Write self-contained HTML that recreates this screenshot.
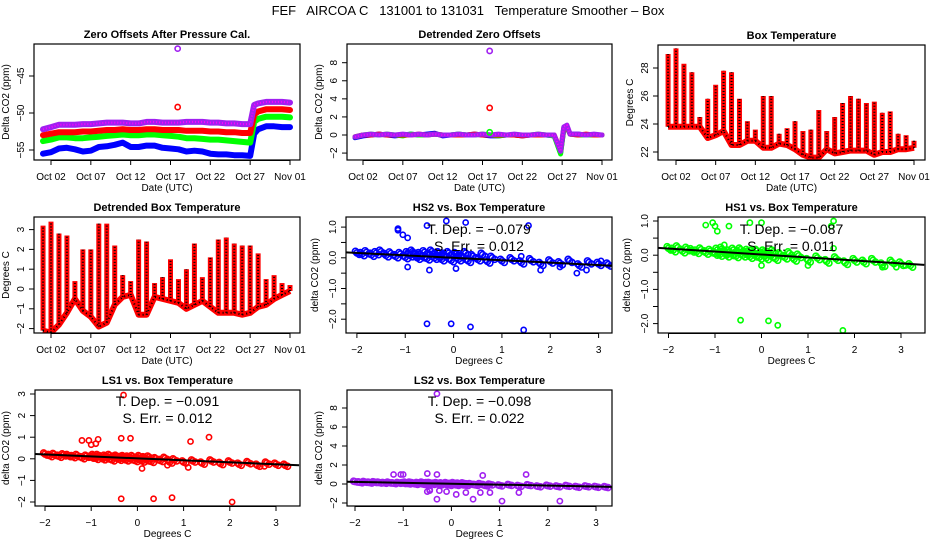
<!DOCTYPE html>
<html><head><meta charset="utf-8">
<style>
html,body{margin:0;padding:0;background:#fff;}
svg{display:block;font-family:"Liberation Sans",Arial,sans-serif;}
</style></head>
<body>
<svg id="c" width="936" height="540" viewBox="0 0 936 540" xmlns="http://www.w3.org/2000/svg">
<text x="468" y="15" text-anchor="middle" font-size="13" xml:space="preserve">FEF   AIRCOA C   131001 to 131031   Temperature Smoother – Box</text>
</svg>
<script>
// ---------- data ----------
const dateTicks = [2,7,12,17,22,27,32];
const dateTickLabels = ["Oct 02","Oct 07","Oct 12","Oct 17","Oct 22","Oct 27","Nov 01"];
const offDays = [1,2,3,4,5,6,7,8,9,10,11,12,13,14,15,16,17,18,19,20,21,22,23,24,25,26,27,27.5,28,29,30,31,32];
const offBlue   = [-55.5,-55.3,-54.8,-54.7,-54.9,-55.2,-55.1,-54.6,-54.5,-54.3,-54.0,-54.6,-54.6,-54.4,-54.4,-54.7,-54.8,-54.9,-55.2,-55.1,-55.2,-55.5,-55.6,-55.6,-55.7,-55.7,-55.8,-52.8,-52.2,-51.8,-51.8,-51.9,-51.9];
const offGreen  = [-53.8,-53.6,-53.3,-53.3,-53.4,-53.4,-53.3,-53.2,-53.1,-53.0,-52.9,-53.0,-53.0,-52.9,-52.9,-53.0,-53.1,-53.2,-53.4,-53.4,-53.5,-53.6,-53.6,-53.7,-53.8,-53.9,-54.0,-51.2,-50.8,-50.5,-50.5,-50.5,-50.6];
const offRed    = [-53.0,-52.8,-52.6,-52.6,-52.6,-52.5,-52.5,-52.4,-52.3,-52.3,-52.2,-52.3,-52.3,-52.2,-52.2,-52.3,-52.3,-52.3,-52.4,-52.4,-52.4,-52.5,-52.5,-52.6,-52.6,-52.7,-52.7,-50.2,-49.8,-49.5,-49.5,-49.5,-49.6];
const offPurple = [-52.2,-51.9,-51.6,-51.6,-51.6,-51.5,-51.5,-51.4,-51.3,-51.3,-51.3,-51.4,-51.4,-51.2,-51.2,-51.3,-51.3,-51.3,-51.2,-51.2,-51.2,-51.3,-51.3,-51.4,-51.4,-51.5,-51.5,-48.9,-48.7,-48.5,-48.5,-48.5,-48.6];
const offOutlierDays = [17.9,17.9];
const offOutlierVals = [-41.3,-49.2];

const detDays = [1,2,3,4,5,6,7,8,9,10,11,12,13,14,15,16,17,18,19,20,21,22,23,24,25,26,26.8,27.2,27.6,28,29,30,31,32];
const detBlue   = [-0.3,-0.1,0.0,0.1,0.0,-0.1,0.0,0.1,0.0,0.1,0.2,-0.1,0.0,0.1,0.0,0.1,0.0,-0.1,-0.1,0.0,0.0,-0.1,0.0,0.0,0.0,-0.1,-2.0,0.6,0.9,0.1,0.1,0.0,0.0,0.0];
const detGreen  = [-0.2,0.0,0.1,0.0,0.1,0.0,-0.1,0.1,0.0,0.0,0.1,0.0,0.0,0.1,0.0,0.0,0.1,0.0,-0.1,0.0,0.0,0.0,0.0,0.1,0.0,-0.1,-2.1,0.7,0.8,0.1,0.0,0.0,0.0,0.0];
const detRed    = [-0.2,0.0,0.0,0.1,0.0,0.0,0.0,0.0,0.1,0.0,0.1,0.0,0.0,0.0,0.0,0.1,0.0,0.0,0.0,0.0,0.0,-0.1,0.0,0.0,0.0,0.0,-1.7,0.8,1.0,0.1,0.0,0.1,0.0,0.0];
const detPurple = [-0.2,0.0,0.1,0.0,0.1,0.0,0.1,0.0,0.1,0.0,0.1,0.0,0.0,0.1,0.0,0.0,0.1,0.0,0.1,0.0,0.1,0.0,0.0,0.1,0.0,0.0,-1.8,0.9,1.1,0.1,0.1,0.0,0.1,0.0];
const detOutlierDays = [17.9,17.9,17.9];
const detOutlierVals = [9.3,3.0,0.3];

const boxDays = [1,2,3,4,5,6,7,8,9,10,11,12,13,14,15,16,17,18,19,20,21,22,23,24,25,26,27,28,29,30,31,32];
const boxMin = [23.8,23.8,23.8,23.8,23.8,23.0,23.2,23.5,22.5,22.5,22.8,22.8,22.3,22.3,22.6,22.5,22.2,21.8,21.6,21.6,22.2,21.9,22.0,22.1,22.1,22.1,21.8,22.0,22.0,22.2,22.2,22.3];
const boxMax = [29.0,29.4,28.3,27.7,24.5,25.8,26.8,27.8,27.7,25.8,24.2,23.6,26.0,26.0,23.3,23.7,24.2,23.5,23.6,25.0,23.5,24.5,25.5,26.0,25.8,25.5,25.6,24.8,24.9,23.3,23.2,22.8];
const dbMin = [-2.1,-2.2,-1.8,-1.2,-0.5,-1.1,-1.4,-1.9,-1.7,-0.8,-0.4,-0.3,-1.3,-1.3,-0.4,-0.5,-0.6,-0.7,-1.0,-0.8,-0.6,-0.9,-1.2,-1.2,-1.2,-1.3,-1.2,-0.9,-0.8,-0.5,-0.3,-0.1];
const dbMax = [3.2,3.4,2.8,2.7,0.4,2.0,2.0,3.3,3.3,2.2,0.7,0.4,2.5,2.4,0.3,0.6,1.5,0.5,1.0,2.3,0.6,1.6,2.5,2.6,2.3,2.2,2.2,1.8,0.5,0.7,0.3,0.2];

const tempC = [-2.0,-1.9,-1.8,-1.7,-1.6,-1.5,-1.4,-1.3,-1.2,-1.1,-1.0,-0.95,-0.9,-0.85,-0.8,-0.75,-0.7,-0.65,-0.6,-0.55,-0.5,-0.45,-0.4,-0.35,-0.3,-0.25,-0.2,-0.15,-0.1,-0.05,0.0,0.05,0.1,0.15,0.2,0.25,0.3,0.4,0.5,0.6,0.7,0.8,1.0,1.2,1.4,1.6,1.8,2.0,2.2,2.4,2.6,2.8,3.0,3.2];
const hs2Y = [0.16,0.12,0.18,0.1,0.15,0.2,0.08,0.14,0.05,0.12,0.02,0.15,0.08,0.2,0.1,0.0,0.12,0.05,0.18,-0.02,0.1,0.2,0.0,0.08,0.15,-0.05,0.1,0.02,0.15,-0.08,0.05,0.12,-0.05,0.08,0.0,0.15,-0.1,0.05,-0.05,0.1,-0.12,0.0,-0.1,-0.05,-0.15,-0.08,-0.2,-0.12,-0.18,-0.1,-0.25,-0.15,-0.2,-0.22];
const hs1Y = [0.2,0.15,0.22,0.12,0.18,0.14,0.1,0.16,0.08,0.12,0.05,0.15,0.02,0.18,0.08,0.0,0.1,0.04,0.15,-0.02,0.08,0.16,0.0,0.06,0.12,-0.04,0.1,0.0,0.12,-0.06,0.04,0.1,-0.08,0.06,-0.02,0.1,-0.1,0.02,-0.06,0.05,-0.12,-0.02,-0.15,-0.08,-0.18,-0.1,-0.22,-0.15,-0.2,-0.15,-0.28,-0.2,-0.25,-0.3];
const ls1Y = [0.22,0.15,0.2,0.12,0.18,0.15,0.1,0.15,0.05,0.12,0.08,0.15,0.02,0.15,0.1,0.0,0.12,0.04,0.15,-0.05,0.08,0.12,-0.02,0.06,0.1,-0.05,0.08,0.0,0.1,-0.08,0.02,0.1,-0.1,0.05,-0.05,0.08,-0.12,0.0,-0.08,0.02,-0.15,-0.05,-0.15,-0.1,-0.2,-0.1,-0.22,-0.15,-0.25,-0.18,-0.3,-0.2,-0.25,-0.3];
const ls2Y = [0.25,0.18,0.22,0.15,0.2,0.15,0.12,0.15,0.08,0.12,0.1,0.15,0.05,0.15,0.1,0.0,0.12,0.05,0.15,-0.05,0.1,0.12,0.0,0.05,0.1,-0.05,0.08,0.0,0.1,-0.1,0.02,0.1,-0.1,0.05,-0.05,0.08,-0.12,0.0,-0.1,0.0,-0.15,-0.05,-0.15,-0.1,-0.2,-0.12,-0.25,-0.18,-0.25,-0.2,-0.3,-0.25,-0.3,-0.32];
const hs2OutX = [-1.15,-1.15,-1.05,-0.95,-0.55,-0.15,0.25,1.55,-0.55,-0.05,0.35,1.45,-0.95,-0.5,0.05,1.8,2.55,2.75,3.05,1.4,2.2];
const hs2OutY = [0.95,0.9,0.75,0.65,1.05,1.2,1.15,1.05,-2.15,-2.15,-2.25,-2.35,-0.3,-0.4,-0.35,-0.4,-0.5,-0.4,-0.1,0.05,-0.3];
const hs1OutX = [-1.2,-1.05,-1.0,-0.95,-0.7,-0.25,0.0,1.55,1.5,-0.45,0.15,0.35,1.75,-0.8,0.0,1.0,2.6,2.9,3.1,1.55];
const hs1OutY = [0.88,0.95,0.85,0.7,0.85,0.95,0.95,1.0,0.85,-1.9,-1.92,-2.05,-2.2,0.3,-0.3,-0.3,-0.35,-0.35,-0.3,0.2];
const ls1OutX = [-1.2,-1.05,-1.0,-0.9,-0.85,-0.35,-0.3,-0.15,1.15,1.55,-0.35,0.35,0.75,2.05,0.1,1.1,0.65,2.75];
const ls1OutY = [0.85,0.85,0.65,0.7,0.9,0.95,2.95,0.95,0.8,1.0,-1.85,-1.85,-1.8,-2.0,-0.45,-0.4,-0.3,-0.35];
const ls2OutX = [-1.2,-1.05,-1.0,-0.5,-0.45,-0.3,-0.3,-0.25,-0.5,-0.45,-0.3,-0.1,0.1,0.3,0.45,0.6,0.65,0.8,1.05,1.4,1.55,2.25];
const ls2OutY = [1.0,1.0,1.0,1.1,-0.7,1.0,9.5,-0.7,-0.8,-0.6,-1.6,-0.8,-1.1,-0.9,-1.6,-0.9,0.9,-0.9,-1.8,-0.9,1.0,-1.8];
const fitSlopes = [-0.079,-0.087,-0.091,-0.098];
const fitIntercepts = [0.0,0.02,0.02,0.03];
const fitSlopeLabels = ["−0.079","−0.087","−0.091","−0.098"];
const fitErrLabels = ["0.012","0.011","0.012","0.022"];

// ---------- helpers ----------
const svg = document.getElementById('c');
const NS = 'http://www.w3.org/2000/svg';
function mk(tag, attrs, parent){const e=document.createElementNS(NS,tag);for(const k in attrs)e.setAttribute(k,attrs[k]);(parent||svg).appendChild(e);return e;}
function lin(v0,p0,v1,p1){return v=>p0+(v-v0)*(p1-p0)/(v1-v0);}
const COL={blue:'#0000ff',green:'#00ff00',red:'#ff0000',purple:'#a020f0'};

function panel(name, box, title, xlab, ylab, xs, ys, xt, xtl, yt, ytl, ylabX){
  const g=mk('g',{});
  
  
  const t=mk('text',{x:(box.l+box.r)/2,y:box.t-6,'text-anchor':'middle','font-size':11,'font-weight':'bold'},g);
  t.textContent=title;
  
  
  const ax=mk('g',{},g);
  
  
  xt.forEach((v,i)=>{const x=xs(v);
    mk('line',{x1:x,x2:x,y1:box.b,y2:box.b+5,stroke:'#000'},ax);
    const tl=mk('text',{x:x,y:box.b+20,'text-anchor':'middle','font-size':10},ax);tl.textContent=xtl[i];
    
    });
  mk('line',{x1:xs(xt[0]),x2:xs(xt[xt.length-1]),y1:box.b+0.5,y2:box.b+0.5,stroke:'#000'},ax);
  const xl=mk('text',{x:(box.l+box.r)/2,y:box.b+31,'text-anchor':'middle','font-size':10},ax);xl.textContent=xlab;
  
  
  const ay=mk('g',{},g);
  
  
  yt.forEach((v,i)=>{const y=ys(v);
    mk('line',{x1:box.l-5,x2:box.l,y1:y,y2:y,stroke:'#000'},ay);
    if(ytl[i]!==''){const tl=mk('text',{x:box.l-10,y:y,'text-anchor':'middle','font-size':10,transform:`rotate(-90 ${box.l-10} ${y})`},ay);tl.textContent=ytl[i];
    
    }});
  const yl=mk('text',{x:ylabX,y:(box.t+box.b)/2,'text-anchor':'middle','font-size':10,transform:`rotate(-90 ${ylabX} ${(box.t+box.b)/2})`},ay);yl.textContent=ylab;
  
  
  const clipId='clip-'+name;
  const cp=mk('clipPath',{id:clipId},g);mk('rect',{x:box.l,y:box.t,width:box.r-box.l,height:box.b-box.t},cp);
  const plot=mk('g',{'clip-path':`url(#${clipId})`},g);
  
  
  const fr=mk('rect',{x:box.l,y:box.t,width:box.r-box.l,height:box.b-box.t,fill:'none',stroke:'#000','stroke-width':1.2},g);
  
  
  return plot;
}
function band(plot,xs,ys,X,Y,color,w,name,tex){
  const pts=X.map((d,i)=>xs(d).toFixed(1)+','+ys(Y[i]).toFixed(1)).join(' ');
  const p=mk('polyline',{points:pts,fill:'none',stroke:color,'stroke-width':w,'stroke-linejoin':'round','stroke-linecap':'round'},plot);
  
  
  if(tex){mk('polyline',{points:pts,fill:'none',stroke:tex,'stroke-width':2,'stroke-dasharray':'1 2'},plot);}
}
function marks(plot,xs,ys,X,Y,color,name,r){
  X.forEach((d,i)=>{const c=mk('circle',{cx:xs(d),cy:ys(Y[i]),r:r||2.6,fill:'none',stroke:color,'stroke-width':1.6},plot);
    
    });
}
function bars(plot,xs,ys,X,MN,MX,name){
  const basePts=X.map((d,i)=>xs(d+0.5).toFixed(1)+','+ys(MN[i]).toFixed(1)).join(' ');
  const b=mk('polyline',{points:basePts,fill:'none',stroke:'#ff0000','stroke-width':6,'stroke-linejoin':'round'},plot);
  
  
  X.forEach((d,i)=>{const x=xs(d+0.5);
    const l=mk('line',{x1:x,x2:x,y1:ys(MN[i]),y2:ys(MX[i]),stroke:'#ff0000','stroke-width':5},plot);
    
    
    mk('line',{x1:x,x2:x,y1:ys(MN[i]),y2:ys(MX[i]),stroke:'#000','stroke-width':2,'stroke-dasharray':'1 2'},plot);});
  mk('polyline',{points:basePts,fill:'none',stroke:'#000','stroke-width':2,'stroke-dasharray':'1 3'},plot);
}

// ---------- Panel 1 ----------
{const box={l:34,t:44,r:300,b:160};
 const xs=lin(2,51,32,290), ys=lin(-50,113,-45,76);
 const p=panel('zero-offsets-panel',box,'Zero Offsets After Pressure Cal.','Date (UTC)','Delta CO2 (ppm)',xs,ys,dateTicks,dateTickLabels,[-55,-50,-45],['−55','−50','−45'],9);
 band(p,xs,ys,offDays,offBlue,COL.blue,6,'series-hs2');
 band(p,xs,ys,offDays,offGreen,COL.green,6,'series-hs1');
 band(p,xs,ys,offDays,offRed,COL.red,6,'series-ls1');
 band(p,xs,ys,offDays,offPurple,COL.purple,6,'series-ls2','#ff00ff');
 marks(p,xs,ys,offOutlierDays.slice(0,1),offOutlierVals.slice(0,1),COL.purple,'outlier-ls2');
 marks(p,xs,ys,offOutlierDays.slice(1),offOutlierVals.slice(1),COL.red,'outlier-ls1');}
// ---------- Panel 2 ----------
{const box={l:347,t:44,r:612,b:160};
 const xs=lin(2,363,32,602), ys=lin(0,135,8,62.7);
 const p=panel('detrended-offsets-panel',box,'Detrended Zero Offsets','Date (UTC)','Delta CO2 (ppm)',xs,ys,dateTicks,dateTickLabels,[-2,0,2,4,6,8],['−2','0','2','4','6','8'],322);
 band(p,xs,ys,detDays,detBlue,COL.blue,5,'series-hs2');
 band(p,xs,ys,detDays,detGreen,COL.green,5,'series-hs1');
 band(p,xs,ys,detDays,detRed,COL.red,5,'series-ls1');
 band(p,xs,ys,detDays,detPurple,COL.purple,5,'series-ls2','#ff00ff');
 marks(p,xs,ys,detOutlierDays.slice(0,1),detOutlierVals.slice(0,1),COL.purple,'outlier-ls2');
 marks(p,xs,ys,detOutlierDays.slice(1,2),detOutlierVals.slice(1,2),COL.red,'outlier-ls1');
 marks(p,xs,ys,detOutlierDays.slice(2),detOutlierVals.slice(2),COL.green,'outlier-hs1');}
// ---------- Panel 3 ----------
{const box={l:658,t:45,r:925,b:160};
 const xs=lin(2,676,32,914), ys=lin(22,152,28,68);
 const p=panel('box-temperature-panel',box,'Box Temperature','Date (UTC)','Degrees C',xs,ys,dateTicks,dateTickLabels,[22,24,26,28],['22','24','26','28'],633);
 bars(p,xs,ys,boxDays.map(d=>d-0.5),boxMin,boxMax,'box-temp');}
// ---------- Panel 4 ----------
{const box={l:34,t:217,r:300,b:333};
 const xs=lin(2,51,32,290), ys=lin(0,289,3,229.6);
 const p=panel('detrended-box-temperature-panel',box,'Detrended Box Temperature','Date (UTC)','Degrees C',xs,ys,dateTicks,dateTickLabels,[-2,-1,0,1,2,3],['−2','−1','0','1','2','3'],9);
 bars(p,xs,ys,boxDays.map(d=>d-0.5),dbMin,dbMax,'detrended-temp');}
// ---------- scatter panels ----------
const sc=[
 {name:'hs2-vs-temp-panel',title:'HS2 vs. Box Temperature',box:{l:346,t:217,r:612,b:333},xs:lin(-2,356.9,3,598.6),ys:lin(0,257.8,1,227.1),ytk:[-2,-1.5,-1,-0.5,0,0.5,1],ytl:['−2.0','','−1.0','','0.0','','1.0'],color:COL.blue,Y:hs2Y,OX:hs2OutX,OY:hs2OutY,ylx:318,ann:229},
 {name:'hs1-vs-temp-panel',title:'HS1 vs. Box Temperature',box:{l:658,t:217,r:925,b:333},xs:lin(-2,668.5,3,901),ys:lin(0,255.2,1,221),ytk:[-2,-1.5,-1,-0.5,0,0.5,1],ytl:['−2.0','','−1.0','','0.0','','1.0'],color:COL.green,Y:hs1Y,OX:hs1OutX,OY:hs1OutY,ylx:630,ann:229},
 {name:'ls1-vs-temp-panel',title:'LS1 vs. Box Temperature',box:{l:35,t:390,r:300,b:506},xs:lin(-2,45,3,276),ys:lin(0,458.8,3,394),ytk:[-2,-1,0,1,2,3],ytl:['−2','−1','0','1','2','3'],color:COL.red,Y:ls1Y,OX:ls1OutX,OY:ls1OutY,ylx:9,ann:401},
 {name:'ls2-vs-temp-panel',title:'LS2 vs. Box Temperature',box:{l:347,t:390,r:612,b:506},xs:lin(-2,355,3,596),ys:lin(0,484,8,408),ytk:[-2,0,2,4,6,8],ytl:['−2','0','2','4','6','8'],color:COL.purple,Y:ls2Y,OX:ls2OutX,OY:ls2OutY,ylx:322,ann:401}
];
sc.forEach((s,k)=>{
  const p=panel(s.name,s.box,s.title,'Degrees C','delta CO2 (ppm)',s.xs,s.ys,[-2,-1,0,1,2,3],['−2','−1','0','1','2','3'],s.ytk,s.ytl,s.ylx);
  marks(p,s.xs,s.ys,tempC,s.Y,s.color,'scatter-point',3);
  marks(p,s.xs,s.ys,tempC.map(v=>v+0.05),s.Y.map(v=>v-0.05),s.color,'scatter-point',3);
  marks(p,s.xs,s.ys,tempC.map(v=>v-0.03),s.Y.map(v=>v+0.05),s.color,'scatter-point',3);
  marks(p,s.xs,s.ys,s.OX,s.OY,s.color,'scatter-outlier',2.6);
  const x0=-2.3,x1=3.5;
  const fl=mk('line',{x1:s.xs(x0),y1:s.ys(fitIntercepts[k]+fitSlopes[k]*x0),x2:s.xs(x1),y2:s.ys(fitIntercepts[k]+fitSlopes[k]*x1),stroke:'#000','stroke-width':2},p);
  
  
  const cx=(s.box.l+s.box.r)/2;
  const a1=mk('text',{x:cx,y:s.ann+5,'text-anchor':'middle','font-size':14,'xml:space':'preserve'});a1.textContent='T. Dep. =  '+fitSlopeLabels[k];
  
  
  const a2=mk('text',{x:cx,y:s.ann+22,'text-anchor':'middle','font-size':14});a2.textContent='S. Err. = '+fitErrLabels[k];
  
  
});
</script>
</body></html>
